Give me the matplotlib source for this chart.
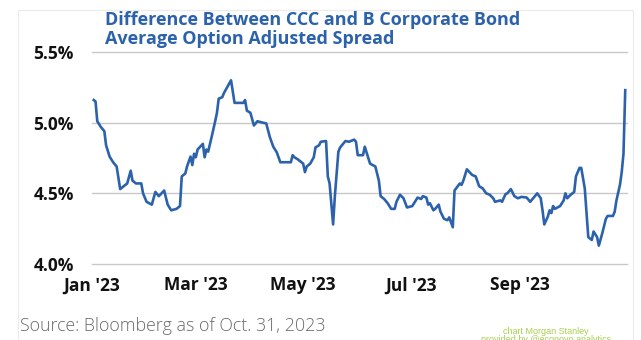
import matplotlib
matplotlib.use("Agg")
import matplotlib.pyplot as plt
import matplotlib.dates as mdates
import pandas as pd
from matplotlib.patches import Rectangle

# days after 2 Jan 2023
days = [0, 1, 2, 4, 6, 7, 9, 11, 13, 15, 17, 19, 21, 22, 24, 27, 28, 30, 33, 35,
        37, 40, 42, 44, 47, 49, 50, 52, 53, 55, 56, 57, 58, 59, 62, 63, 64, 65, 67, 69,
        70, 71, 73, 74, 76, 78, 80, 82, 85, 86, 87, 89, 91, 93, 96, 98, 100, 102, 104, 106,
        110, 112, 113, 114, 116, 119, 120, 121, 123, 125, 126, 128, 129, 132, 133, 134, 136, 137, 139, 140,
        143, 145, 148, 149, 150, 153, 154, 155, 157, 160, 162, 163, 165, 167, 169, 171, 172, 174, 176, 178,
        181, 182, 184, 186, 187, 189, 190, 191, 193, 194, 196, 197, 199, 201, 202, 204, 205, 208, 209, 210,
        212, 215, 217, 219, 221, 223, 225, 227, 228, 231, 232, 234, 235, 237, 239, 241, 243, 246, 248, 250,
        252, 254, 255, 256, 258, 259, 260, 261, 262, 265, 267, 268, 269, 271, 273, 274, 276, 277, 279, 280,
        281, 283, 284, 286, 287, 289, 291, 292, 295, 296, 297, 299, 300, 301, 302]

# CCC minus B option adjusted spread, %
spread = [5.16, 5.15, 5.01, 4.97, 4.94, 4.84, 4.76, 4.72, 4.69, 4.53, 4.55, 4.57, 4.66, 4.59, 4.57, 4.57, 4.50, 4.44, 4.42, 4.51,
          4.48, 4.52, 4.42, 4.38, 4.39, 4.41, 4.62, 4.64, 4.69, 4.76, 4.70, 4.78, 4.755, 4.81, 4.85, 4.755, 4.81, 4.795, 4.90, 5.01,
          5.07, 5.17, 5.18, 5.21, 5.255, 5.30, 5.14, 5.14, 5.14, 5.16, 5.085, 5.07, 4.98, 5.01, 5.00, 4.995, 4.90, 4.83, 4.79, 4.72,
          4.72, 4.72, 4.77, 4.755, 4.74, 4.71, 4.65, 4.69, 4.71, 4.755, 4.825, 4.84, 4.865, 4.87, 4.62, 4.57, 4.28, 4.48, 4.795, 4.825,
          4.87, 4.865, 4.88, 4.865, 4.77, 4.77, 4.83, 4.79, 4.71, 4.69, 4.59, 4.48, 4.46, 4.43, 4.39, 4.39, 4.44, 4.49, 4.465, 4.40,
          4.41, 4.43, 4.47, 4.46, 4.48, 4.47, 4.42, 4.43, 4.38, 4.39, 4.42, 4.37, 4.32, 4.31, 4.33, 4.26, 4.52, 4.57, 4.56, 4.59,
          4.67, 4.63, 4.62, 4.55, 4.535, 4.50, 4.49, 4.465, 4.44, 4.45, 4.44, 4.495, 4.50, 4.53, 4.48, 4.465, 4.475, 4.47, 4.44, 4.47,
          4.50, 4.465, 4.38, 4.28, 4.335, 4.38, 4.36, 4.41, 4.39, 4.41, 4.45, 4.50, 4.465, 4.49, 4.51, 4.62, 4.68, 4.68, 4.535, 4.36,
          4.19, 4.17, 4.23, 4.19, 4.13, 4.22, 4.32, 4.34, 4.34, 4.37, 4.45, 4.56, 4.65, 4.78, 5.23]

y_ticks = [4.0, 4.5, 5.0, 5.5]
x_ticks = ["2023-01-01", "2023-03-01", "2023-05-01", "2023-07-01", "2023-09-01"]

dates = pd.Timestamp("2023-01-02") + pd.to_timedelta(days, unit="D")

blue = "#2c62ab"
fig = plt.figure(figsize=(6.41, 3.40), dpi=100)

# faint frame round the chart card
fig.patches.append(Rectangle((18 / 641, -0.05), 615 / 641, 1 - 10 / 340 + 0.05,
                             transform=fig.transFigure, fill=False, edgecolor="#ebebeb", linewidth=0.8))

ax = fig.add_axes([92 / 641, 76 / 340, 535 / 641, 212 / 340])
ax.plot(dates, spread, color=blue, linewidth=1.9, solid_joinstyle="round")

ax.set_ylim(4.0, 5.5)
ax.set_xlim(pd.Timestamp("2023-01-01"), pd.Timestamp("2023-11-01"))
ax.set_yticks(y_ticks)
ax.set_yticklabels([f"{v:.1f}%" for v in y_ticks])
ax.set_xticks(pd.to_datetime(x_ticks))
ax.xaxis.set_major_formatter(mdates.DateFormatter("%b '%y"))

ax.grid(axis="y", color="#c8c8c8", linewidth=1.0)
for gl in ax.get_ygridlines():
    gl.set_clip_on(False)
ax.set_axisbelow(True)
for s in ax.spines.values():
    s.set_visible(False)
ax.tick_params(length=0, labelsize=12.5, labelcolor="#111111")
ax.tick_params(axis="y", pad=13)
ax.tick_params(axis="x", pad=9)
for lab in ax.get_xticklabels() + ax.get_yticklabels():
    lab.set_fontfamily("Open Sans")
    lab.set_fontweight("bold")
    lab.set_fontstretch("condensed")

fig.text(105 / 641, 1 - 11 / 340, "Difference Between CCC and B Corporate Bond\nAverage Option Adjusted Spread",
         ha="left", va="top", fontsize=13, fontweight="bold", color=blue, family="Open Sans", linespacing=1.05)

fig.text(20 / 641, 1 - 326 / 340, "Source: Bloomberg as of Oct. 31, 2023", ha="left", va="center",
         fontsize=12.8, color="#6a6a6a", family="Open Sans", fontweight="light")

fig.text(546 / 641, 1 - 331 / 340, "chart Morgan Stanley", ha="center", va="center",
         fontsize=6.5, color="#a8cf4e", family="Liberation Sans")
fig.text(546 / 641, 1 - 340 / 340, "provided by @econovo analytics", ha="center", va="center",
         fontsize=6.5, color="#a8cf4e", family="Liberation Sans")

fig.savefig("out.png", dpi=100)
